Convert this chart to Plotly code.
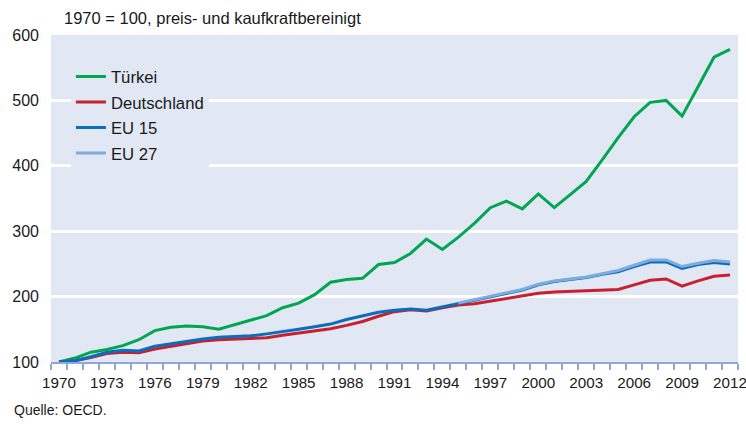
import plotly.graph_objects as go

years = list(range(1970, 2013))

tuerkei = [100, 106, 115, 119, 125, 134, 148, 153, 155, 154,
           150, 157, 163, 171, 183, 190, 203, 222, 226, 228,
           249, 252, 266, 288, 272, 291, 312, 336, 346, 334,
           357, 336, 356, 376, 409, 443, 475, 497, 500, 476,
           521, 566, 578]

deutschland = [100, 102, 107, 113, 115, 114, 120, 124, 128, 132,
               134, 135, 135, 137, 141, 144, 148, 151, 156, 162,
               170, 177, 180, 178, 183, 187, 189, 193, 196, 200,
               205, 207, 208, 208, 210, 211, 218, 225, 227, 216,
               224, 231, 233]

eu15 = [100, 102, 108, 115, 118, 117, 124, 128, 131, 135,
        138, 139, 140, 143, 146, 150, 154, 158, 165, 171,
        176, 179, 181, 179, 184, 190, 194, 199, 204, 210,
        218, 223, 226, 229, 234, 238, 246, 253, 253, 243,
        249, 252, 250]

eu27 = [None] * 25 + [190, 195, 200, 205, 211,
                      219, 224, 227, 230, 235, 240, 248, 256, 256, 246,
                      251, 255, 253]

names = ["Türkei", "Deutschland", "EU 15", "EU 27"]
colors = ["#00A651", "#C8202F", "#0A6EBD", "#7EACDC"]
series = [tuerkei, deutschland, eu15, eu27]

y_ticks = [100, 200, 300, 400, 500, 600]
x_label_years = list(range(1970, 2013, 3))

fig = go.Figure()
for i in range(4):
    fig.add_trace(go.Scatter(
        x=years, y=series[i], name=names[i], mode="lines",
        line=dict(color=colors[i], width=3),
        legendgroup=names[i], legendrank=i + 1, connectgaps=False,
    ))

font_family = "Arial, 'Liberation Sans', sans-serif"
txt = "#1a1a1a"

fig.update_layout(
    width=746, height=425,
    margin=dict(l=51, r=8, t=35, b=63),
    paper_bgcolor="white",
    plot_bgcolor="#E1E8F4",
    font=dict(family=font_family, size=16, color=txt),
    showlegend=True,
    legend=dict(
        x=0.029, y=0.926, xanchor="left", yanchor="top",
        bgcolor="#E1E8F4", borderwidth=0,
        font=dict(family=font_family, size=16.7, color=txt),
        traceorder="grouped", tracegroupgap=0.8,
    ),
    xaxis=dict(
        range=[1969.5, 2012.5],
        tickvals=x_label_years,
        ticktext=[str(y) for y in x_label_years],
        ticks="", showgrid=False, zeroline=False,
        showline=True, linecolor="#8FA8D6", linewidth=1.5,
        tickfont=dict(family=font_family, size=15.2, color=txt),
        ticklabelstandoff=6,
        ticklabeloverflow="allow",
        minor=dict(ticks="outside", tick0=1969.5, dtick=1, ticklen=6,
                   tickcolor="#8FA8D6", tickwidth=1.5, showgrid=False),
        automargin=False,
        fixedrange=True,
    ),
    yaxis=dict(
        range=[100, 600],
        tickvals=y_ticks,
        ticks="", showgrid=True, gridcolor="white", gridwidth=3,
        zeroline=False, showline=False,
        tickfont=dict(family=font_family, size=16, color=txt),
        ticklabelstandoff=11,
        ticklabeloverflow="allow",
        automargin=False,
        fixedrange=True,
    ),
    annotations=[
        dict(text="1970 = 100, preis- und kaufkraftbereinigt",
             xref="paper", yref="paper", x=0.016, y=1.052,
             xanchor="left", yanchor="middle", showarrow=False,
             font=dict(family=font_family, size=16.5, color=txt)),
        dict(text="Quelle: OECD.",
             xref="paper", yref="paper", x=-0.057, y=-0.147,
             xanchor="left", yanchor="middle", showarrow=False,
             font=dict(family=font_family, size=14, color=txt)),
    ],
)

fig.write_html(
    "out.html",
    config={"displayModeBar": False},
    post_script="document.body.style.margin='0';document.body.style.padding='0';",
)
